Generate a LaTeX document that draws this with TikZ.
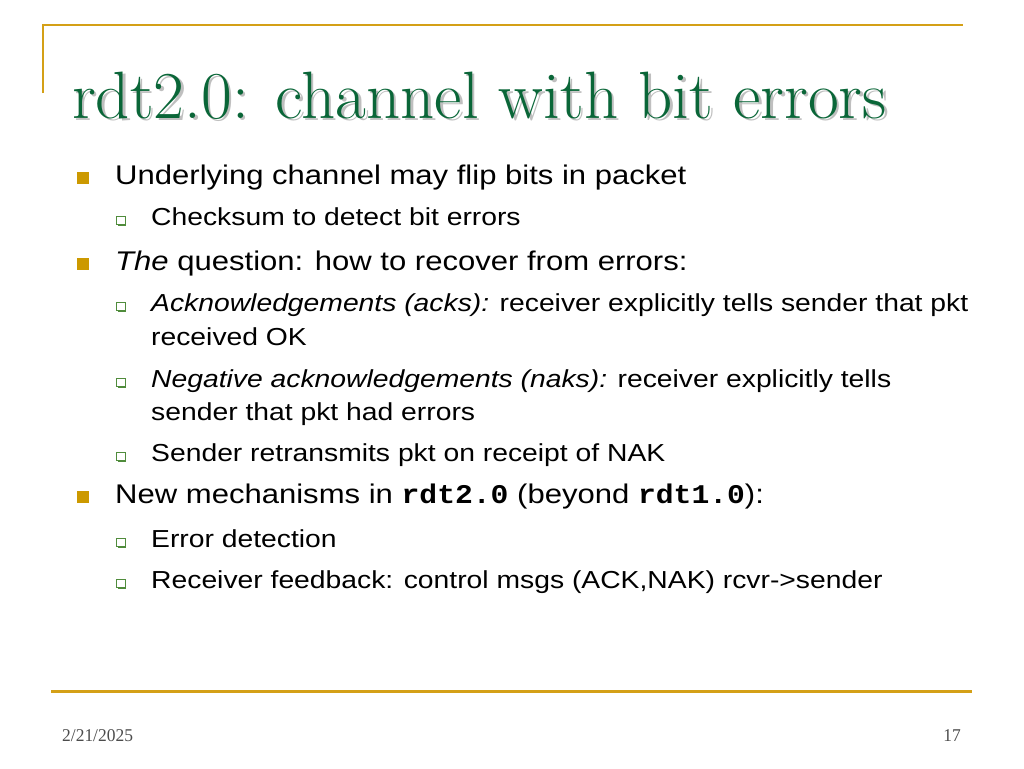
\documentclass[tikz,border=0pt]{standalone}
\usepackage{xcolor}
\usepackage{fontspec}
\setsansfont[FakeStretch=1.15]{Liberation Sans}
\newfontfamily\codefont[FakeStretch=1.1]{Liberation Mono}
\newfontfamily\footfont[FakeStretch=0.97]{Liberation Serif}
\usepackage{tikz}
\usetikzlibrary{shadows}

\definecolor{rulegold}{RGB}{212,160,23}
\definecolor{bulletgold}{RGB}{204,153,0}
\definecolor{titlegreen}{RGB}{10,102,56}
\definecolor{subgreen}{RGB}{80,140,60}

\tikzset{
    titletext/.style={anchor=base west, inner sep=0pt, text=titlegreen, font=\rmfamily\fontsize{67}{67}\selectfont},
    lone/.style={anchor=base west, inner sep=0pt, font=\sffamily\fontsize{27}{27}\selectfont},
    ltwo/.style={anchor=base west, inner sep=0pt, font=\sffamily\fontsize{24.6}{24.6}\selectfont},
    bulone/.style={fill=bulletgold, minimum size=11.5pt, inner sep=0pt, anchor=south west},
    bultwo/.style={draw=subgreen, line width=0.9pt, fill=white, minimum size=8.5pt, inner sep=0pt, anchor=south west,
        drop shadow={shadow xshift=1.3pt, shadow yshift=-1.3pt, fill=subgreen, opacity=1}},
    foot/.style={anchor=base west, inner sep=0pt, text=black!70, font=\footfont\fontsize{18}{18}\selectfont}
}

\begin{document}
\begin{tikzpicture}[x=1pt, y=-1pt]
    \useasboundingbox (0,0) rectangle (1024,768);
    % Frame rules
    \draw[rulegold, line width=2pt] (43,93) -- (43,25) -- (963,25);
    \draw[rulegold, line width=3pt] (51,691) -- (972,691);
    % Title with its shadow
    \node[titletext, text=black!25] (titleshadow) at (74.5,120.5) {rdt2.0: channel with bit errors};
    \node[titletext] (title) at (72,118) {rdt2.0: channel with bit errors};
    % First level bullets
    \node[bulone] (ba) at (77,184) {};
    \node[bulone] (bb) at (77,270) {};
    \node[bulone] (bc) at (77,503) {};
    % Second level bullets
    \node[bultwo] (sa) at (116,225) {};
    \node[bultwo] (sb) at (116,311) {};
    \node[bultwo] (sc) at (116,387) {};
    \node[bultwo] (sd) at (116,461) {};
    \node[bultwo] (se) at (116,547) {};
    \node[bultwo] (sf) at (116,588) {};
    % First level text
    \node[lone] (underlying) at (115,184) {Underlying channel may flip bits in packet};
    \node[lone] (question) at (115,270) {\itshape The\upshape{} question: how to recover from errors:};
    \node[lone] (mechanisms) at (115,503) {New mechanisms in {\codefont\bfseries rdt2.0} (beyond {\codefont\bfseries rdt1.0}):};
    % Second level text
    \node[ltwo] (checksum) at (151,225) {Checksum to detect bit errors};
    \node[ltwo] (acks) at (151,311) {\itshape Acknowledgements (acks):\upshape{} receiver explicitly tells sender that pkt};
    \node[ltwo] (acksb) at (151,345) {received OK};
    \node[ltwo] (naks) at (151,387) {\itshape Negative acknowledgements (naks):\upshape{} receiver explicitly tells};
    \node[ltwo] (naksb) at (151,420) {sender that pkt had errors};
    \node[ltwo] (retransmit) at (151,461) {Sender retransmits pkt on receipt of NAK};
    \node[ltwo] (detection) at (151,547) {Error detection};
    \node[ltwo] (feedback) at (151,588) {Receiver feedback: control msgs (ACK,NAK) rcvr->sender};
    % Footer
    \node[foot] (date) at (62,741) {2/21/2025};
    \node[foot, anchor=base east] (pagenum) at (961,741) {17};
\end{tikzpicture}
\end{document}
